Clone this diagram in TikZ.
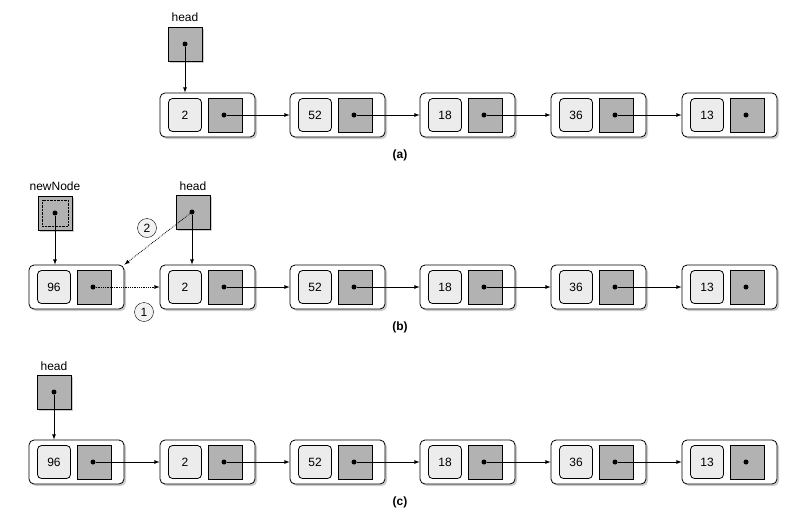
\documentclass[tikz,border=0pt]{standalone}
\usepackage{fontspec}
\setmainfont{Liberation Sans}
\usetikzlibrary{shadows}
\begin{document}
\begin{tikzpicture}[x=1pt,y=-1pt,
  outer/.style={draw,thick,rounded corners=5pt,fill=white,minimum width=95pt,minimum height=44pt,drop shadow={shadow xshift=2pt,shadow yshift=-2pt,opacity=0.4}},
  data/.style={draw,thick,rounded corners=4pt,fill=gray!15,minimum width=33pt,minimum height=33pt,font=\large},
  ptr/.style={draw,thick,fill=gray!60,minimum width=34pt,minimum height=34pt},
  hptr/.style={ptr,drop shadow={shadow xshift=2pt,shadow yshift=-2pt,opacity=0.4}},
  dot/.style={circle,fill=black,inner sep=0pt,minimum size=5pt},
  arr/.style={-latex,thick},
  darr/.style={-latex,thick,densely dotted},
  capt/.style={font=\bfseries\large\rmfamily},
  num/.style={circle,draw,fill=gray!10,inner sep=0pt,minimum size=19pt,font=\large}]
\useasboundingbox (0,0) rectangle (800,528);
\newcommand{\lnode}[4]{%
  \node[outer] (#1) at (#2+47.5,#3) {};
  \node[data] (#1d) at (#2+25,#3) {#4};
  \node[ptr] (#1p) at (#2+65,#3) {};
  \node[dot] (#1c) at (#2+64,#3) {};}
% row a
\foreach \v/\x [count=\i] in {2/160,52/290,18/420,36/551,13/682}{\lnode{a\i}{\x}{115}{\v}}
\foreach \i/\j in {1/2,2/3,3/4,4/5}{\draw[arr] (a\i c) -- (a\j.west);}
\node[hptr] (ha) at (185,44) {}; \node[dot] (hac) at (185,44) {};
\node (hal) at (185,17) {\large head};
\draw[arr] (hac) -- (a1.north -| hac);
\node[capt] (ca) at (400,155) {(a)};
% row b
\foreach \v/\x [count=\i] in {96/29,2/160,52/290,18/420,36/551,13/682}{\lnode{b\i}{\x}{287}{\v}}
\foreach \i/\j in {2/3,3/4,4/5,5/6}{\draw[arr] (b\i c) -- (b\j.west);}
\draw[darr] (b1c) -- (b2.west);
\node[hptr] (nn) at (55,213) {}; \node[draw,densely dotted,minimum size=26pt] (nni) at (55,213) {};
\node[dot] (nnc) at (55,213) {};
\node (nnl) at (55,186) {\large newNode};
\draw[arr] (nnc) -- (b1.north -| nnc);
\node[hptr] (hb) at (193,212) {}; \node[dot] (hbc) at (192,212) {};
\node (hbl) at (193,186) {\large head};
\draw[arr] (hbc) -- (b2.north -| hbc);
\draw[darr] (hbc) -- (b1.north east);
\node[num] (n2) at (147,228) {2};
\node[num] (n1) at (144,312) {1};
\node[capt] (cb) at (400,327) {(b)};
% row c
\foreach \v/\x [count=\i] in {96/29,2/160,52/290,18/420,36/551,13/682}{\lnode{c\i}{\x}{462}{\v}}
\foreach \i/\j in {1/2,2/3,3/4,4/5,5/6}{\draw[arr] (c\i c) -- (c\j.west);}
\node[hptr] (hc) at (54,392) {}; \node[dot] (hcc) at (54,392) {};
\node (hcl) at (54,366) {\large head};
\draw[arr] (hcc) -- (c1.north -| hcc);
\node[capt] (cc) at (400,502) {(c)};
\end{tikzpicture}
\end{document}
